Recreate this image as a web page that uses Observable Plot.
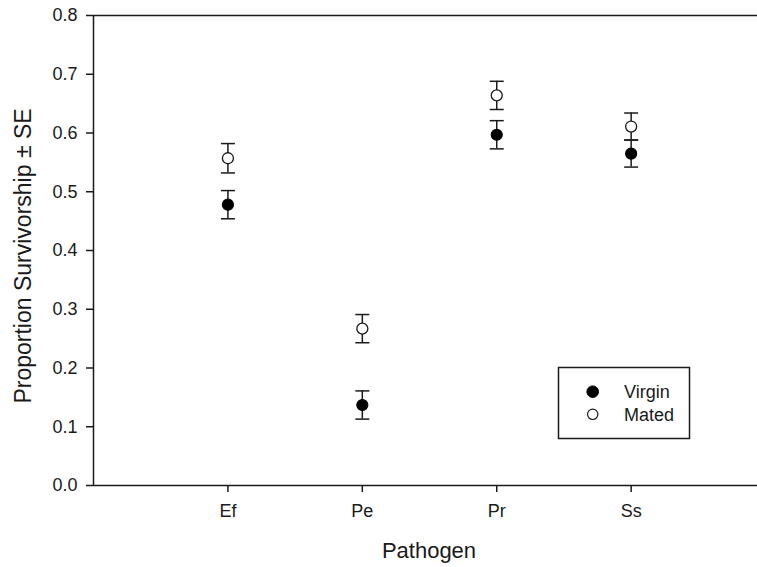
<!DOCTYPE html>
<html><head><meta charset="utf-8">
<script src="https://cdn.jsdelivr.net/npm/d3@7"></script>
<script src="https://cdn.jsdelivr.net/npm/@observablehq/plot@0.6"></script>
<style>
body{margin:0;background:#fff}
svg{font-family:"Liberation Sans",Arial,sans-serif}
</style>
</head><body><div id="chart"></div>
<script>
const pathogens = ["Ef", "Pe", "Pr", "Ss"];
const virginMean = [0.478, 0.137, 0.597, 0.565];
const virginSE   = [0.024, 0.024, 0.024, 0.023];
const matedMean  = [0.557, 0.267, 0.664, 0.611];
const matedSE    = [0.025, 0.024, 0.024, 0.023];
const groups = ["Virgin", "Mated"];
const yTicks = [0, 0.1, 0.2, 0.3, 0.4, 0.5, 0.6, 0.7, 0.8];
const xLabel = "Pathogen";
const yLabel = "Proportion Survivorship \u00B1 SE";

const data = pathogens.flatMap((p, i) => [
  {pathogen: p, pos: i + 1, group: groups[0], mean: virginMean[i], se: virginSE[i]},
  {pathogen: p, pos: i + 1, group: groups[1], mean: matedMean[i], se: matedSE[i]}
]);

const ink = "#1a1a1a";
const cap = {draw(ctx, size) { const r = Math.sqrt(size / Math.PI); ctx.moveTo(-r, 0); ctx.lineTo(r, 0); }};

const W = 757, H = 567, ML = 93, MR = 0, MT = 15, MB = 82;

const plot = Plot.plot({
  width: W, height: H,
  marginLeft: ML, marginRight: MR, marginTop: MT, marginBottom: MB,
  style: {color: ink, background: "#fff", fontFamily: '"Liberation Sans", Arial, sans-serif'},
  x: {domain: [0, 4.94]},
  y: {domain: [0, 0.8]},
  marks: [
    Plot.axisY({ticks: yTicks, tickFormat: d3.format(".1f"), tickSize: 7, tickPadding: 9, fontSize: 18, label: null, strokeWidth: 1.5}),
    Plot.axisX({ticks: [1, 2, 3, 4], tickFormat: d => pathogens[d - 1], tickSize: 7, tickPadding: 12, fontSize: 18, label: null, strokeWidth: 1.5}),
    Plot.ruleX([0], {stroke: ink, strokeWidth: 1.5}),
    Plot.ruleY([0, 0.8], {stroke: ink, strokeWidth: 1.5}),
    Plot.ruleX(data, {x: "pos", y1: d => d.mean - d.se, y2: d => d.mean + d.se, stroke: ink, strokeWidth: 1.5}),
    Plot.dot(data, {x: "pos", y: d => d.mean + d.se, symbol: cap, r: 7, stroke: ink, fill: "none", strokeWidth: 1.5}),
    Plot.dot(data, {x: "pos", y: d => d.mean - d.se, symbol: cap, r: 7, stroke: ink, fill: "none", strokeWidth: 1.5}),
    Plot.dot(data.filter(d => d.group === "Virgin"), {x: "pos", y: "mean", r: 5.5, fill: "#000", stroke: "#000", strokeWidth: 1.2}),
    Plot.dot(data.filter(d => d.group === "Mated"), {x: "pos", y: "mean", r: 5.5, fill: "#fff", stroke: ink, strokeWidth: 1.3})
  ]
});

document.getElementById("chart").appendChild(plot);
const svg = d3.select(plot);

// axis titles
svg.append("text").attr("x", 429).attr("y", 558).attr("text-anchor", "middle")
  .attr("font-size", 22).attr("fill", ink).text(xLabel);
svg.append("text").attr("transform", "translate(31,256) rotate(-90)").attr("text-anchor", "middle")
  .attr("font-size", 23).attr("fill", ink).text(yLabel);

// legend
const lg = svg.append("g");
lg.append("rect").attr("x", 558.5).attr("y", 367.5).attr("width", 131).attr("height", 71)
  .attr("fill", "#fff").attr("stroke", ink).attr("stroke-width", 1.5);
groups.forEach((g, i) => {
  const cy = 391.7 + i * 22.6;
  lg.append("circle").attr("cx", 592.7).attr("cy", cy).attr("r", g === "Virgin" ? 5.8 : 5.2)
    .attr("fill", g === "Virgin" ? "#000" : "#fff").attr("stroke", g === "Virgin" ? "#000" : ink)
    .attr("stroke-width", g === "Virgin" ? 1 : 1.2);
  lg.append("text").attr("x", 624).attr("y", cy).attr("dy", "0.35em").attr("font-size", 18)
    .attr("text-anchor", "start").attr("fill", ink).text(g);
});
</script>
</body></html>
